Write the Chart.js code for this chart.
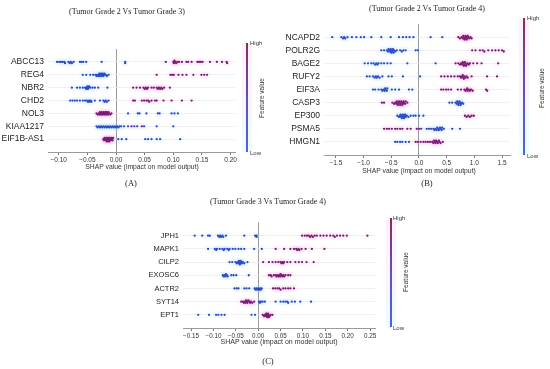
<!DOCTYPE html>
<html><head><meta charset="utf-8">
<script src="https://cdn.jsdelivr.net/npm/chart.js@4.4.0/dist/chart.umd.min.js"></script>
<style>
html,body{margin:0;padding:0;background:#fff;}
#root{position:relative;width:550px;height:369px;overflow:hidden;background:#fff;}
canvas{position:absolute;}
.t{position:absolute;white-space:nowrap;transform:translate(-50%,-50%);line-height:1;filter:grayscale(100%);}
.l{position:absolute;white-space:nowrap;transform:translate(0,-50%);line-height:1;filter:grayscale(100%);}
.serif{font-family:"Liberation Serif","DejaVu Serif",serif;color:#222;}
.sans{font-family:"Liberation Sans",Arial,sans-serif;color:#333;}
.rot{transform:translate(-50%,-50%) rotate(-90deg);}
.cb{position:absolute;width:2px;background:linear-gradient(to top,#4d63e6,#6d4cc0 45%,#7a3a90 75%,#86304e);}
.cbh{position:absolute;width:10px;background:linear-gradient(to top,rgba(150,240,255,0.18),rgba(255,170,230,0.18));}
</style></head>
<body><div id="root">
<canvas id="cA" width="240" height="126" style="left:0px;top:40px"></canvas>
<canvas id="cB" width="240" height="154" style="left:275px;top:15px"></canvas>
<canvas id="cC" width="250" height="128" style="left:130px;top:214px"></canvas>

<div class="t serif" style="left:127px;top:12px;font-size:8px">(Tumor Grade 2 Vs Tumor Grade 3)</div>
<div class="t serif" style="left:427px;top:9px;font-size:8px">(Tumor Grade 2 Vs Tumor Grade 4)</div>
<div class="t serif" style="left:268px;top:202px;font-size:8px">(Tumor Grade 3 Vs Tumor Grade 4)</div>

<div class="t sans" style="left:142px;top:167px;font-size:6.8px">SHAP value (impact on model output)</div>
<div class="t sans" style="left:419px;top:170.5px;font-size:6.8px">SHAP value (impact on model output)</div>
<div class="t sans" style="left:279px;top:341px;font-size:7px">SHAP value (impact on model output)</div>

<div class="t serif" style="left:131px;top:183px;font-size:8.5px">(A)</div>
<div class="t serif" style="left:427px;top:183px;font-size:8.5px">(B)</div>
<div class="t serif" style="left:268px;top:361px;font-size:8.5px">(C)</div>

<div class="cbh" style="left:242px;top:43px;height:109px"></div>
<div class="cb" style="left:246px;top:43px;height:109px"></div>
<div class="l sans" style="left:250px;top:43px;font-size:6px">High</div>
<div class="l sans" style="left:250px;top:153px;font-size:6px">Low</div>
<div class="t sans rot" style="left:262px;top:98px;font-size:6.5px">Feature value</div>

<div class="cbh" style="left:519px;top:18px;height:137px"></div>
<div class="cb" style="left:523px;top:18px;height:137px"></div>
<div class="l sans" style="left:527px;top:18px;font-size:6px">High</div>
<div class="l sans" style="left:527px;top:156px;font-size:6px">Low</div>
<div class="t sans rot" style="left:542px;top:88px;font-size:6.5px">Feature value</div>

<div class="cbh" style="left:385.5px;top:218px;height:109px"></div>
<div class="cb" style="left:389.5px;top:218px;height:109px"></div>
<div class="l sans" style="left:393px;top:218px;font-size:6px">High</div>
<div class="l sans" style="left:393px;top:328px;font-size:6px">Low</div>
<div class="t sans rot" style="left:406px;top:272px;font-size:6.5px">Feature value</div>
</div>
<script>
// ---------- Panel A: Tumor Grade 2 vs 3 ----------
const aFeatures = ["ABCC13","REG4","NBR2","CHD2","NOL3","KIAA1217","EIF1B-AS1"];
const aLow = [
  [-0.103,-0.099,-0.096,-0.093,-0.090,-0.089,-0.083,-0.081,-0.079,-0.077,-0.074,-0.063,-0.060,-0.057,-0.052,-0.025,0.016,0.016],
  [-0.058,-0.052,-0.045,-0.040,-0.036,-0.034,-0.033,-0.031,-0.030,-0.029,-0.028,-0.027,-0.026,-0.025,-0.024,-0.023,-0.022,-0.021,-0.020,-0.018,-0.016,-0.013],
  [-0.077,-0.068,-0.063,-0.058,-0.054,-0.052,-0.051,-0.050,-0.049,-0.048,-0.047,-0.045,-0.041,-0.037,-0.031,-0.015],
  [-0.080,-0.076,-0.072,-0.068,-0.063,-0.058,-0.054,-0.051,-0.049,-0.047,-0.046,-0.044,-0.043,-0.037,-0.028,-0.022,-0.020,-0.018,-0.016,-0.013],
  [0.021,0.038,0.041,0.053,0.073,0.076,0.097,0.102,0.108],
  [-0.034,-0.032,-0.030,-0.028,-0.026,-0.024,-0.022,-0.020,-0.018,-0.016,-0.014,-0.012,-0.010,-0.008,-0.006,-0.004,-0.002,0.000,0.002,0.004,0.006,0.009,0.014,0.021,0.032,0.037,0.049,0.071,0.100],
  [0.004,0.010,0.018,0.051,0.056,0.062,0.071,0.077,0.112]
];
const aHigh = [
  [0.087,0.100,0.101,0.102,0.103,0.105,0.107,0.110,0.115,0.123,0.126,0.132,0.142,0.145,0.148,0.151,0.164,0.176,0.185,0.193,0.194],
  [0.071,0.095,0.098,0.101,0.109,0.116,0.123,0.135,0.149,0.154,0.159],
  [0.030,0.036,0.042,0.048,0.050,0.052,0.054,0.056,0.062,0.066,0.071,0.073,0.075,0.077,0.079,0.081,0.084,0.094],
  [0.030,0.033,0.045,0.049,0.053,0.056,0.058,0.062,0.068,0.071,0.083,0.097,0.115,0.132],
  [-0.034,-0.032,-0.030,-0.029,-0.028,-0.027,-0.026,-0.025,-0.024,-0.023,-0.022,-0.021,-0.020,-0.019,-0.018,-0.017,-0.016,-0.015,-0.014,-0.013,-0.012,-0.010,-0.008],
  [0.027,0.045],
  [-0.022,-0.021,-0.020,-0.019,-0.018,-0.017,-0.016,-0.016,-0.015,-0.014,-0.013,-0.012,-0.012,-0.011,-0.010,-0.009,-0.008,-0.007,-0.006,-0.005]
];
const aTicks = [-0.10,-0.05,0,0.05,0.10,0.15,0.20];
const aTickLabels = ["\u22120.10","\u22120.05","0.00","0.05","0.10","0.15","0.20"];

// ---------- Panel B: Tumor Grade 2 vs 4 ----------
const bFeatures = ["NCAPD2","POLR2G","BAGE2","RUFY2","EIF3A","CASP3","EP300","PSMA5","HMGN1"];
const bLow = [
  [-1.566,-1.40,-1.37,-1.35,-1.33,-1.29,-1.21,-1.13,-1.05,-0.99,-0.86,-0.68,-0.51,-0.36,-0.29,-0.23,-0.17,-0.10,0.21,0.42],
  [-0.68,-0.63,-0.58,-0.56,-0.55,-0.53,-0.52,-0.51,-0.50,-0.49,-0.48,-0.47,-0.46,-0.45,-0.43,-0.40,-0.34,-0.31,-0.28,-0.24,-0.06,-0.02],
  [-0.98,-0.92,-0.86,-0.82,-0.79,-0.77,-0.75,-0.73,-0.68,-0.63,-0.57,-0.51,-0.21,0.30],
  [-0.94,-0.89,-0.83,-0.80,-0.78,-0.76,-0.74,-0.71,-0.66,-0.55,-0.49,-0.29,0.02],
  [-0.83,-0.79,-0.73,-0.68,-0.66,-0.64,-0.62,-0.61,-0.60,-0.58,-0.57,-0.49,-0.43,-0.36,-0.18,-0.12],
  [0.55,0.60,0.66,0.68,0.69,0.70,0.71,0.72,0.73,0.74,0.75,0.76,0.78,0.80],
  [-0.39,-0.36,-0.34,-0.33,-0.32,-0.31,-0.30,-0.29,-0.28,-0.27,-0.26,-0.25,-0.24,-0.22,-0.19,-0.15,-0.10,-0.06,0.00,0.08],
  [0.04,0.14,0.18,0.22,0.26,0.28,0.30,0.32,0.33,0.35,0.36,0.38,0.39,0.41,0.42,0.45,0.60,0.74],
  [-0.43,-0.39,-0.34,-0.30,-0.24,-0.18]
];
const bHigh = [
  [0.71,0.74,0.77,0.79,0.80,0.81,0.82,0.83,0.84,0.85,0.86,0.87,0.88,0.89,0.91,0.93,0.95],
  [0.96,1.02,1.10,1.15,1.18,1.25,1.32,1.38,1.44,1.50,1.53],
  [0.66,0.71,0.74,0.76,0.78,0.79,0.80,0.81,0.82,0.83,0.84,0.85,0.86,0.88,0.90,0.92,0.98,1.05,1.13,1.43],
  [0.40,0.46,0.52,0.58,0.64,0.70,0.74,0.76,0.78,0.79,0.80,0.81,0.82,0.84,0.86,0.88,0.95,1.23,1.41],
  [0.40,0.44,0.49,0.53,0.58,0.70,0.76,0.82,0.84,0.86,0.87,0.88,0.90,0.92,0.94,0.97,1.21,1.23],
  [-0.67,-0.63,-0.48,-0.45,-0.43,-0.41,-0.40,-0.39,-0.38,-0.37,-0.36,-0.35,-0.34,-0.33,-0.32,-0.31,-0.30,-0.29,-0.28,-0.27,-0.25,-0.24,-0.21],
  [0.83,0.86,0.89,0.92,0.95,0.99],
  [-0.63,-0.58,-0.54,-0.49,-0.43,-0.39,-0.34,-0.30,-0.21,-0.15,-0.04,0.00],
  [-0.06,-0.02,0.03,0.08,0.12,0.16,0.20,0.24,0.26,0.27,0.29,0.30,0.31,0.33,0.34,0.36,0.37,0.39,0.43]
];
const bTicks = [-1.5,-1.0,-0.5,0,0.5,1.0,1.5];
const bTickLabels = ["\u22121.5","\u22121.0","\u22120.5","0.0","0.5","1.0","1.5"];

// ---------- Panel C: Tumor Grade 3 vs 4 ----------
const cFeatures = ["JPH1","MAPK1","CILP2","EXOSC6","ACTR2","SYT14","EPT1"];
const cLow = [
  [-0.142,-0.125,-0.112,-0.108,-0.090,-0.087,-0.085,-0.083,-0.080,-0.078,-0.072,-0.031,-0.007,-0.004,-0.003],
  [-0.112,-0.097,-0.094,-0.092,-0.086,-0.080,-0.077,-0.075,-0.069,-0.066,-0.064,-0.057,-0.051,-0.044,-0.038,-0.031,-0.009,0.008],
  [-0.064,-0.058,-0.051,-0.048,-0.046,-0.044,-0.043,-0.042,-0.041,-0.040,-0.039,-0.038,-0.036,-0.034,-0.031,-0.024],
  [-0.079,-0.077,-0.075,-0.073,-0.072,-0.070,-0.068,-0.060,-0.055,-0.049,-0.021],
  [-0.053,-0.048,-0.044,-0.031,-0.026,-0.020,-0.008,-0.006,-0.004,-0.002,0.000,0.002,0.004,0.006,0.008],
  [0.002,0.004,0.006,0.010,0.015,0.039,0.050,0.056,0.061,0.065,0.067,0.075,0.082,0.094,0.118],
  [-0.134,-0.110,-0.094,-0.089,-0.082,-0.075,-0.015,-0.007]
];
const cHigh = [
  [0.098,0.104,0.109,0.113,0.116,0.119,0.122,0.126,0.131,0.139,0.146,0.153,0.161,0.168,0.171,0.176,0.183,0.190,0.198,0.244],
  [0.039,0.058,0.072,0.080,0.085,0.087,0.090,0.092,0.097,0.106,0.120,0.148],
  [0.011,0.024,0.032,0.039,0.045,0.050,0.052,0.054,0.056,0.058,0.065,0.072,0.083,0.091,0.098,0.108,0.124],
  [0.024,0.028,0.030,0.035,0.039,0.041,0.043,0.045,0.047,0.049,0.050,0.052,0.054,0.056,0.058,0.061,0.067,0.072],
  [0.033,0.038,0.043,0.047,0.050,0.056,0.061,0.067,0.072,0.080],
  [-0.038,-0.034,-0.032,-0.030,-0.028,-0.027,-0.025,-0.024,-0.022,-0.020,-0.018,-0.016,-0.013,-0.009],
  [0.010,0.013,0.015,0.017,0.018,0.019,0.020,0.021,0.022,0.023,0.024,0.026,0.028,0.032]
];
const cTicks = [-0.15,-0.10,-0.05,0,0.05,0.10,0.15,0.20,0.25];
const cTickLabels = ["\u22120.15","\u22120.10","\u22120.05","0.00","0.05","0.10","0.15","0.20","0.25"];

const LOW_COLOR = "#3146c8";
const HIGH_COLOR = "#771c74";

// beeswarm layout: offsets computed from the data values only
function swarm(lows, highs, pxU, pxR) {
  const out = {low: [], high: []};
  const order = [0,1,-1,2,-2,3,-3,4,-4,5,-5];
  lows.forEach((_, row) => {
    const pts = [];
    lows[row].forEach(v => pts.push({x: v, c: 0}));
    highs[row].forEach(v => pts.push({x: v, c: 1}));
    pts.sort((a, b) => a.x - b.x);
    const levels = {};
    pts.forEach(p => {
      const px = p.x * pxU;
      let chosen = 0;
      for (const L of order) {
        const arr = levels[L] || [];
        if (!arr.some(q => Math.abs(q - px) < 1.7)) { chosen = L; break; }
      }
      (levels[chosen] = levels[chosen] || []).push(px);
      const pt = {x: p.x, y: row + chosen * 1.25 / pxR};
      (p.c ? out.high : out.low).push(pt);
    });
  });
  return out;
}

function makePanel(id, o) {
  const sw = swarm(o.low, o.high, o.pxU, o.pxR);
  const n = o.features.length;
  new Chart(document.getElementById(id), {
    type: 'scatter',
    data: {
      datasets: [
        {data: sw.low, backgroundColor: LOW_COLOR, pointRadius: 1.15, borderWidth: 0, order: 0},
        {data: sw.high, backgroundColor: HIGH_COLOR, pointRadius: 1.15, borderWidth: 0, order: 0},
        {data: sw.low, backgroundColor: 'rgba(140,225,255,0.06)', pointRadius: 5, borderWidth: 0, pointStyle: 'rect', order: 5},
        {data: sw.high, backgroundColor: 'rgba(255,140,220,0.06)', pointRadius: 5, borderWidth: 0, pointStyle: 'rect', order: 5}
      ]
    },
    options: {
      responsive: false, animation: false, devicePixelRatio: 1,
      layout: {padding: {left: 0, top: o.padTop, right: o.padRight, bottom: 0}},
      plugins: {legend: {display: false}, tooltip: {enabled: false}, title: {display: false}},
      scales: {
        x: {
          type: 'linear', min: o.xmin, max: o.xmax,
          afterBuildTicks: s => { s.ticks = o.ticks.map(v => ({value: v})); },
          afterFit: s => { s.height = 14; },
          ticks: {
            callback: (v, i) => o.tickLabels[i],
            font: {family: '"Liberation Sans", Arial, sans-serif', size: o.tickFont},
            color: '#333', padding: 1.5, maxRotation: 0, autoSkip: false
          },
          grid: {
            color: c => (c.tick && Math.abs(c.tick.value) < 1e-9) ? '#9a9a9a' : 'rgba(0,0,0,0)',
            lineWidth: 1, tickLength: 3, tickColor: '#777', drawTicks: true
          },
          border: {display: true, color: '#9a9a9a', width: 1}
        },
        y: {
          type: 'linear', reverse: true, min: -1, max: n,
          afterBuildTicks: s => { s.ticks = o.features.map((_, i) => ({value: i})); },
          afterFit: s => { s.width = o.yw; },
          ticks: {
            callback: v => o.features[v],
            font: {family: '"Liberation Sans", Arial, sans-serif', size: o.featFont},
            color: '#222', padding: 4, autoSkip: false
          },
          grid: {color: '#ececec', lineWidth: 0.8, drawTicks: false},
          border: {display: false}
        }
      }
    }
  });
}

makePanel('cA', {features: aFeatures, low: aLow, high: aHigh, ticks: aTicks, tickLabels: aTickLabels,
  xmin: -0.1187, xmax: 0.2077, pxU: 573, pxR: 13.5, yw: 48, padTop: 4, padRight: 5, tickFont: 6.5, featFont: 8.5});
makePanel('cB', {features: bFeatures, low: bLow, high: bHigh, ticks: bTicks, tickLabels: bTickLabels,
  xmin: -1.714, xmax: 1.643, pxU: 56, pxR: 13.6, yw: 49, padTop: 4, padRight: 3, tickFont: 6.5, featFont: 8.5});
makePanel('cC', {features: cFeatures, low: cLow, high: cHigh, ticks: cTicks, tickLabels: cTickLabels,
  xmin: -0.168, xmax: 0.261, pxU: 452, pxR: 13.75, yw: 53, padTop: 4, padRight: 3, tickFont: 6.3, featFont: 7.5});
</script>
</body></html>
